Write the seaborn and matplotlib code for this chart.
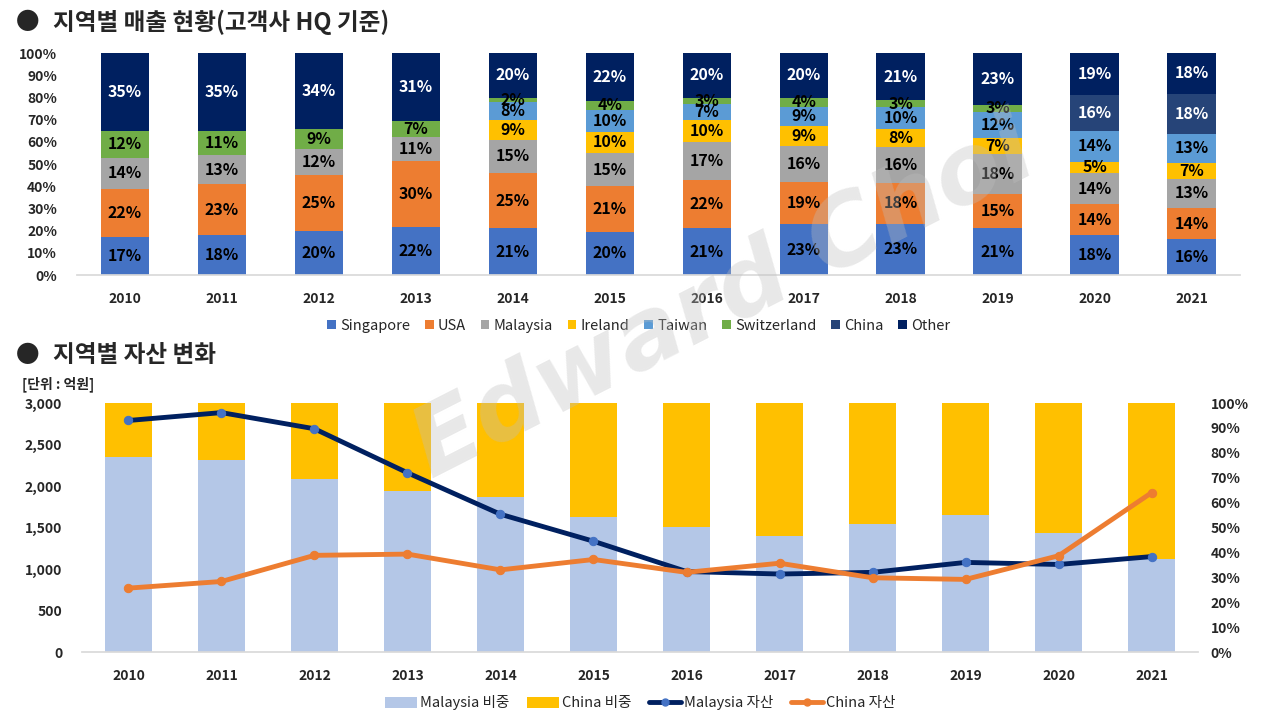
import numpy as np
import pandas as pd
import matplotlib
matplotlib.use("Agg")
import matplotlib.pyplot as plt
import seaborn as sns
from matplotlib.patches import Patch
from matplotlib.lines import Line2D
from matplotlib.ticker import FuncFormatter

years = [2010, 2011, 2012, 2013, 2014, 2015, 2016, 2017, 2018, 2019, 2020, 2021]

# 지역별 매출 비중 (%) - labels as shown on the chart
singapore = [17, 18, 20, 22, 21, 20, 21, 23, 23, 21, 18, 16]
usa = [22, 23, 25, 30, 25, 21, 22, 19, 18, 15, 14, 14]
malaysia = [14, 13, 12, 11, 15, 15, 17, 16, 16, 18, 14, 13]
ireland = [0, 0, 0, 0, 9, 10, 10, 9, 8, 7, 5, 7]
taiwan = [0, 0, 0, 0, 8, 10, 7, 9, 10, 12, 14, 13]
switzerland = [12, 11, 9, 7, 2, 4, 3, 4, 3, 3, 0, 0]
china = [0, 0, 0, 0, 0, 0, 0, 0, 0, 0, 16, 18]
other = [35, 35, 34, 31, 20, 22, 20, 20, 21, 23, 19, 18]

region_names = ["Singapore", "USA", "Malaysia", "Ireland", "Taiwan", "Switzerland", "China", "Other"]
region_colors = ["#4472C4", "#ED7D31", "#A5A5A5", "#FFC000", "#5B9BD5", "#70AD47", "#264478", "#002060"]
label_colors = ["black"] * 6 + ["white", "white"]

# 지역별 자산 (억원) and share (%)
malaysia_share = [78.4, 77.0, 69.4, 64.6, 62.1, 54.2, 50.2, 46.7, 51.5, 55.0, 47.8, 37.4]
malaysia_asset = [2790, 2885, 2690, 2160, 1660, 1335, 970, 940, 960, 1080, 1055, 1150]
china_asset = [770, 850, 1165, 1180, 990, 1115, 960, 1070, 895, 875, 1160, 1920]

sns.set_theme(style="white")
plt.rcParams["font.family"] = ["Noto Sans CJK KR", "DejaVu Sans"]

sales = pd.DataFrame(
    [singapore, usa, malaysia, ireland, taiwan, switzerland, china, other],
    index=region_names, columns=years).T
heights = sales.div(sales.sum(axis=1), axis=0) * 100
cum = heights.cumsum(axis=1)

fig = plt.figure(figsize=(12.8, 7.2), dpi=100)
fig.patch.set_facecolor("white")

# ---------- top: stacked sales share ----------
ax1 = fig.add_axes([0.0598, 0.618, 0.909, 0.308])
for i in reversed(range(len(region_names))):
    sns.barplot(x=years, y=cum.iloc[:, i].values, color=region_colors[i],
                saturation=1, width=0.5, errorbar=None, linewidth=0, ax=ax1)

for i, name in enumerate(region_names):
    for j, yr in enumerate(years):
        v = sales.loc[yr, name]
        if v == 0:
            continue
        mid = cum.iloc[j, i] - heights.iloc[j, i] / 2
        ax1.text(j, mid, f"{v}%", ha="center", va="center", fontsize=11.5,
                 fontweight="bold", color=label_colors[i])

ax1.set_xlim(-0.5, 11.5)
ax1.set_ylim(0, 100)
ax1.set_yticks(range(0, 101, 10))
ax1.yaxis.set_major_formatter(FuncFormatter(lambda v, p: f"{v:.0f}%"))
ax1.set_xticks(range(len(years)))
ax1.set_xticklabels([str(y) for y in years])
ax1.tick_params(axis="y", length=0, pad=14, labelsize=10)
ax1.tick_params(axis="x", length=0, pad=12, labelsize=10)
for lab in ax1.get_xticklabels() + ax1.get_yticklabels():
    lab.set_fontweight("bold")
for s in ["top", "right", "left"]:
    ax1.spines[s].set_visible(False)
ax1.spines["bottom"].set_color("#D9D9D9")
ax1.set_xlabel("")
ax1.set_ylabel("")

handles = [Patch(facecolor=c, edgecolor="none", label=n) for n, c in zip(region_names, region_colors)]
fig.legend(handles=handles, loc="center", bbox_to_anchor=(0.499, 1 - 326 / 720), ncol=8,
           frameon=False, fontsize=10.5, handlelength=0.6, handleheight=0.6,
           handletextpad=0.3, columnspacing=1.0)

# ---------- bottom: asset change ----------
axb = fig.add_axes([0.064, 0.0944, 0.872, 0.3458])
axr = axb.twinx()

sns.barplot(x=years, y=[100] * len(years), color="#FFC000", saturation=1, width=0.5,
            errorbar=None, linewidth=0, ax=axr)
sns.barplot(x=years, y=malaysia_share, color="#B4C7E7", saturation=1, width=0.5,
            errorbar=None, linewidth=0, ax=axr)

pos = np.arange(len(years))
sns.lineplot(x=pos, y=malaysia_asset, ax=axb, color="#002060", linewidth=3.5,
             marker="o", markersize=6, markerfacecolor="#4472C4", markeredgecolor="#4472C4")
sns.lineplot(x=pos, y=china_asset, ax=axb, color="#ED7D31", linewidth=3.5,
             marker="o", markersize=6, markerfacecolor="#ED7D31", markeredgecolor="#ED7D31")

axb.set_zorder(axr.get_zorder() + 1)
axb.patch.set_visible(False)

axb.set_xlim(-0.5, 11.5)
axb.set_ylim(0, 3000)
axb.set_yticks(range(0, 3001, 500))
axb.yaxis.set_major_formatter(FuncFormatter(lambda v, p: f"{v:,.0f}"))
axr.set_ylim(0, 100)
axr.set_yticks(range(0, 101, 10))
axr.yaxis.set_major_formatter(FuncFormatter(lambda v, p: f"{v:.0f}%"))
axb.set_xticks(pos)
axb.set_xticklabels([str(y) for y in years])
axb.tick_params(axis="y", length=0, pad=14, labelsize=10)
axb.tick_params(axis="x", length=0, pad=12, labelsize=10)
axr.tick_params(axis="y", length=0, pad=9, labelsize=10)
for lab in axb.get_xticklabels() + axb.get_yticklabels() + axr.get_yticklabels():
    lab.set_fontweight("bold")
for a in (axb, axr):
    for s in ["top", "right", "left", "bottom"]:
        a.spines[s].set_visible(False)
    a.set_xlabel("")
    a.set_ylabel("")
axb.spines["bottom"].set_visible(True)
axb.spines["bottom"].set_color("#D9D9D9")

handles2 = [
    Patch(facecolor="#B4C7E7", edgecolor="none", label="Malaysia 비중"),
    Patch(facecolor="#FFC000", edgecolor="none", label="China 비중"),
    Line2D([0], [0], color="#002060", lw=3.5, marker="o", markersize=5,
           markerfacecolor="#4472C4", markeredgecolor="#4472C4", label="Malaysia 자산"),
    Line2D([0], [0], color="#ED7D31", lw=3.5, marker="o", markersize=5,
           markerfacecolor="#ED7D31", markeredgecolor="#ED7D31", label="China 자산"),
]
fig.legend(handles=handles2, loc="center", bbox_to_anchor=(0.5, 1 - 703 / 720), ncol=4,
           frameon=False, fontsize=10.5, handlelength=2.2, handleheight=0.8,
           handletextpad=0.2, columnspacing=1.2)

# ---------- titles ----------
for ty, title in [(22, "지역별 매출 현황(고객사 HQ 기준)"), (355, "지역별 자산 변화")]:
    fig.text(16 / 1280, 1 - ty / 720, "●", fontsize=17, fontweight="bold",
             va="center", ha="left")
    fig.text(53 / 1280, 1 - ty / 720, title, fontsize=17, fontweight="bold",
             va="center", ha="left")
fig.text(22 / 1280, 1 - 384 / 720, "[단위 : 억원]", fontsize=10, fontweight="bold",
         va="center", ha="left")

# watermark
fig.text(0.566, 0.583, "Edward Choi", fontsize=70, fontweight="bold", style="italic",
         family="DejaVu Sans", color="#BFBFBF", alpha=0.35, rotation=27,
         ha="center", va="center", zorder=10)

fig.savefig("out.png", dpi=100, facecolor="white")
